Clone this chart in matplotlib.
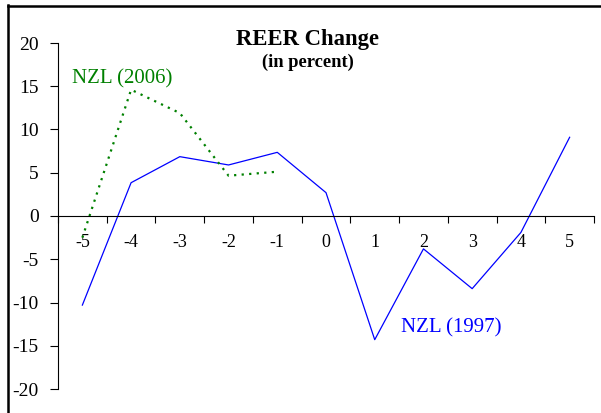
import matplotlib
matplotlib.use("Agg")
import matplotlib.pyplot as plt
from matplotlib.lines import Line2D

plt.rcParams['font.family'] = ['Liberation Serif', 'DejaVu Serif']

# data
periods = [-5, -4, -3, -2, -1, 0, 1, 2, 3, 4, 5]
nzl_1997 = [-10.3, 3.85, 6.86, 5.9, 7.36, 2.7, -14.3, -3.8, -8.4, -1.9, 9.1]
periods_2006 = [-5, -4, -3, -2, -1]
nzl_2006 = [-2.5, 14.6, 11.9, 4.66, 5.12]
yticks = [-20, -15, -10, -5, 0, 5, 10, 15, 20]

fig = plt.figure(figsize=(6.01, 4.13), dpi=100)
ax = fig.add_axes([58/601, 1-389/413, (594-58)/601, (389-43)/413])

ax.plot(periods, nzl_1997, color='#0000FF', lw=0.9)
ax.plot(periods_2006, nzl_2006, color='#008000', lw=1.6, linestyle=(0, (1, 2.4)))

ax.set_xlim(-5.5, 5.5)
ax.set_ylim(-20, 20)
ax.set_yticks(yticks)
ax.set_yticklabels([str(v) for v in yticks])

# category axis: ticks between categories, labels at centres
ax.set_xticks([p - 0.5 for p in periods] + [periods[-1] + 0.5])
ax.set_xticklabels([])
ax.set_xticks(periods, minor=True)
ax.set_xticklabels([str(p) for p in periods], minor=True)
ax.tick_params(axis='x', which='major', length=5, width=0.8, direction='out')
ax.tick_params(axis='x', which='minor', length=0, pad=13, labelsize=13)
ax.tick_params(axis='y', length=6, width=0.8, pad=8, labelsize=14)

ax.spines['bottom'].set_position(('data', 0))
ax.spines['top'].set_visible(False)
ax.spines['right'].set_visible(False)
for s in ('left', 'bottom'):
    ax.spines[s].set_linewidth(0.8)

fig.text(308/601, 1-39/413, 'REER Change', ha='center', va='center',
         fontsize=16.3, fontweight='bold')
fig.text(308/601, 1-62/413, '(in percent)', ha='center', va='center',
         fontsize=13.3, fontweight='bold')

ax.text(-5.21, 15.9, 'NZL (2006)', color='#008000', fontsize=15, va='center', ha='left')
ax.text(1.54, -12.95, 'NZL (1997)', color='#0000FF', fontsize=15, va='center', ha='left')

# chart-area border (left and top edges visible)
fig.add_artist(Line2D([8/601, 8/601], [0, 1-5/413], transform=fig.transFigure, color='black', lw=1.8))
fig.add_artist(Line2D([8/601, 1], [1-6/413, 1-6/413], transform=fig.transFigure, color='black', lw=1.8))

fig.savefig('out.png', dpi=100)
